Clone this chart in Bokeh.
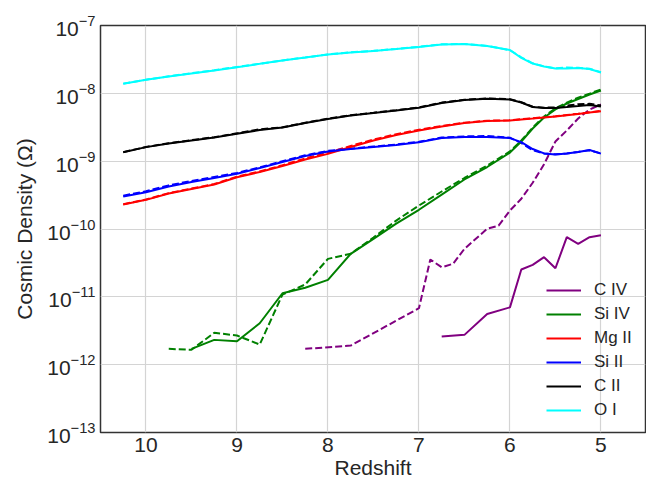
from bokeh.plotting import figure
from bokeh.models import Range1d, FixedTicker, LogTickFormatter, Legend, LegendItem
from bokeh.embed import file_html
from bokeh.resources import INLINE

# ---------------- data ----------------
X_TICKS = [10, 9, 8, 7, 6, 5]
Y_TICKS = [1e-13, 1e-12, 1e-11, 1e-10, 1e-9, 1e-8, 1e-7]

# redshift grid of the smooth low-ionisation curves
z_low = [10.25, 10.0, 9.75, 9.5, 9.25, 9.0, 8.75, 8.5, 8.25, 8.0, 7.75, 7.5, 7.25,
         7.0, 6.75, 6.5, 6.25, 6.0, 5.875, 5.75, 5.625, 5.5, 5.375, 5.25, 5.125, 5.0]

o1_solid = [1.38e-8, 1.58e-8, 1.77e-8, 1.96e-8, 2.17e-8, 2.43e-8, 2.72e-8, 3.05e-8, 3.37e-8,
            3.73e-8, 4.0e-8, 4.21e-8, 4.5e-8, 4.82e-8, 5.25e-8, 5.33e-8, 4.99e-8, 4.35e-8,
            3.34e-8, 2.75e-8, 2.49e-8, 2.32e-8, 2.32e-8, 2.36e-8, 2.29e-8, 2.03e-8]
o1_dash = [1.39e-8, 1.59e-8, 1.78e-8, 1.98e-8, 2.19e-8, 2.45e-8, 2.73e-8, 3.06e-8, 3.38e-8,
           3.75e-8, 4.02e-8, 4.23e-8, 4.52e-8, 4.85e-8, 5.28e-8, 5.35e-8, 5.0e-8, 4.33e-8,
           3.4e-8, 2.77e-8, 2.5e-8, 2.34e-8, 2.4e-8, 2.38e-8, 2.3e-8, 2.05e-8]

c2_solid = [1.355e-9, 1.61e-9, 1.82e-9, 2.02e-9, 2.23e-9, 2.53e-9, 2.88e-9, 3.13e-9, 3.65e-9,
            4.19e-9, 4.71e-9, 5.13e-9, 5.58e-9, 6.12e-9, 7.21e-9, 7.98e-9, 8.3e-9, 8.11e-9,
            7.33e-9, 6.28e-9, 6.08e-9, 6.08e-9, 6.28e-9, 6.5e-9, 6.73e-9, 6.4e-9]
c2_dash = [1.36e-9, 1.62e-9, 1.84e-9, 2.04e-9, 2.26e-9, 2.57e-9, 2.95e-9, 3.16e-9, 3.68e-9,
           4.23e-9, 4.76e-9, 5.18e-9, 5.65e-9, 6.2e-9, 7.3e-9, 8.05e-9, 8.4e-9, 8.2e-9,
           7.4e-9, 6.35e-9, 6.15e-9, 6.2e-9, 6.6e-9, 6.9e-9, 7.0e-9, 6.6e-9]

si2_solid = [3.01e-10, 3.49e-10, 4.23e-10, 4.93e-10, 5.65e-10, 6.52e-10, 7.93e-10, 9.72e-10,
             1.19e-9, 1.39e-9, 1.51e-9, 1.62e-9, 1.73e-9, 1.9e-9, 2.19e-9, 2.27e-9, 2.27e-9,
             2.19e-9, 1.91e-9, 1.51e-9, 1.3e-9, 1.25e-9, 1.3e-9, 1.36e-9, 1.46e-9, 1.29e-9]
si2_dash = [3.1e-10, 3.6e-10, 4.4e-10, 5.1e-10, 5.85e-10, 6.7e-10, 8.1e-10, 1.0e-9,
            1.22e-9, 1.42e-9, 1.53e-9, 1.64e-9, 1.76e-9, 1.93e-9, 2.23e-9, 2.32e-9, 2.35e-9,
            2.22e-9, 1.85e-9, 1.45e-9, 1.3e-9, 1.26e-9, 1.3e-9, 1.37e-9, 1.45e-9, 1.3e-9]

mg2_solid = [2.3e-10, 2.69e-10, 3.34e-10, 3.89e-10, 4.53e-10, 5.8e-10, 6.92e-10, 8.49e-10,
             1.06e-9, 1.28e-9, 1.62e-9, 2.02e-9, 2.43e-9, 2.83e-9, 3.24e-9, 3.65e-9, 3.91e-9,
             3.97e-9, 4.11e-9, 4.25e-9, 4.4e-9, 4.55e-9, 4.74e-9, 4.96e-9, 5.21e-9, 5.43e-9]
mg2_dash = [2.32e-10, 2.72e-10, 3.38e-10, 3.95e-10, 4.6e-10, 5.9e-10, 7.05e-10, 8.7e-10,
            1.1e-9, 1.33e-9, 1.68e-9, 2.08e-9, 2.5e-9, 2.9e-9, 3.3e-9, 3.7e-9, 3.95e-9,
            4.0e-9, 4.15e-9, 4.3e-9, 4.45e-9, 4.6e-9, 4.8e-9, 5.0e-9, 5.25e-9, 5.5e-9]

z_si4_solid = [9.5, 9.25, 9.0, 8.75, 8.5, 8.25, 8.0, 7.75, 7.5, 7.25, 7.0, 6.75, 6.5, 6.25,
               6.0, 5.875, 5.75, 5.625, 5.5, 5.375, 5.25, 5.125, 5.0]
si4_solid = [1.71e-12, 2.32e-12, 2.22e-12, 4.08e-12, 1.13e-11, 1.36e-11, 1.78e-11, 4.31e-11,
             7.16e-11, 1.2e-10, 1.92e-10, 3.22e-10, 5.37e-10, 8.2e-10, 1.34e-9, 1.95e-9,
             3.03e-9, 4.41e-9, 5.78e-9, 7.08e-9, 8.24e-9, 9.61e-9, 1.1e-8]
z_si4_dash = [9.75, 9.5, 9.25, 9.0, 8.75, 8.5, 8.25, 8.0, 7.75, 7.5, 7.25, 7.0, 6.75, 6.5,
              6.25, 6.0, 5.875, 5.75, 5.625, 5.5, 5.375, 5.25, 5.125, 5.0]
si4_dash = [1.71e-12, 1.66e-12, 2.95e-12, 2.69e-12, 1.98e-12, 1.08e-11, 1.52e-11, 3.63e-11,
            4.31e-11, 7.48e-11, 1.33e-10, 2.22e-10, 3.57e-10, 5.65e-10, 8.63e-10, 1.39e-9,
            2.02e-9, 3.13e-9, 4.56e-9, 5.98e-9, 7.3e-9, 8.65e-9, 9.9e-9, 1.14e-8]

z_c4_solid = [6.75, 6.5, 6.25, 6.0, 5.875, 5.75, 5.625, 5.5, 5.375, 5.25, 5.125, 5.0]
c4_solid = [2.6e-12, 2.75e-12, 5.6e-12, 7.0e-12, 2.53e-11, 2.96e-11, 3.84e-11, 2.64e-11,
            7.57e-11, 6.05e-11, 7.57e-11, 8.1e-11]
z_c4_dash = [8.25, 7.75, 7.0, 6.875, 6.75, 6.625, 6.5, 6.25, 6.125, 6.0, 5.875, 5.75,
             5.625, 5.5, 5.375, 5.25, 5.125, 5.0]
c4_dash = [1.71e-12, 1.91e-12, 6.8e-12, 3.55e-11, 2.73e-11, 3.07e-11, 5.1e-11, 1.01e-10,
           1.12e-10, 1.87e-10, 2.79e-10, 4.8e-10, 9.0e-10, 1.95e-9, 2.83e-9, 4.26e-9,
           5.78e-9, 6.84e-9]

SPECIES = ["C IV", "Si IV", "Mg II", "Si II", "C II", "O I"]
COLORS = ["purple", "green", "red", "blue", "black", "cyan"]

# ---------------- figure ----------------
FONT = "Liberation Sans"
TEXT = "#262626"

p = figure(width=646, height=483, x_range=Range1d(10.5, 4.51), y_range=Range1d(1e-13, 1e-7),
           y_axis_type="log", output_backend="svg", toolbar_location=None,
           min_border_left=100, min_border_right=1, min_border_top=25, min_border_bottom=51)
p.background_fill_color = "white"
p.border_fill_color = "white"
p.outline_line_color = "#333333"
p.outline_line_width = 1.5

xt = FixedTicker(ticks=X_TICKS)
yt = FixedTicker(ticks=Y_TICKS)
p.xaxis.ticker = xt
p.yaxis.ticker = yt
p.xgrid.ticker = xt
p.ygrid.ticker = yt
p.yaxis.formatter = LogTickFormatter()
for g in (p.xgrid, p.ygrid):
    g.grid_line_color = "#d4d4d4"
    g.grid_line_width = 1.2

for ax in p.axis:
    ax.axis_line_color = None
    ax.major_tick_line_color = None
    ax.minor_tick_line_color = None
    ax.major_tick_out = 0
    ax.major_tick_in = 0
    ax.major_label_text_font = FONT
    ax.major_label_text_font_size = "21px"
    ax.major_label_text_color = TEXT
    ax.axis_label_text_font = FONT
    ax.axis_label_text_font_size = "21px"
    ax.axis_label_text_font_style = "normal"
    ax.axis_label_text_color = TEXT
p.xaxis.major_label_standoff = 5
p.xaxis.axis_label_standoff = 1
p.yaxis.major_label_standoff = 5
p.yaxis.axis_label_standoff = 8
p.xaxis.axis_label = "Redshift"
p.yaxis.axis_label = "Cosmic Density (\u03a9)"

LW = 2
# dashed curves
p.line(z_c4_dash, c4_dash, color=COLORS[0], line_width=LW, line_dash="7 3")
p.line(z_si4_dash, si4_dash, color=COLORS[1], line_width=LW, line_dash="7 3")
p.line(z_low, mg2_dash, color=COLORS[2], line_width=LW, line_dash="7 3")
p.line(z_low, si2_dash, color=COLORS[3], line_width=LW, line_dash="7 3")
p.line(z_low, c2_dash, color=COLORS[4], line_width=LW, line_dash="7 3")
p.line(z_low, o1_dash, color=COLORS[5], line_width=LW, line_dash="7 3")
# solid curves
r_c4 = p.line(z_c4_solid, c4_solid, color=COLORS[0], line_width=LW)
r_si4 = p.line(z_si4_solid, si4_solid, color=COLORS[1], line_width=LW)
r_mg2 = p.line(z_low, mg2_solid, color=COLORS[2], line_width=LW)
r_si2 = p.line(z_low, si2_solid, color=COLORS[3], line_width=LW)
r_c2 = p.line(z_low, c2_solid, color=COLORS[4], line_width=LW)
r_o1 = p.line(z_low, o1_solid, color=COLORS[5], line_width=LW)

renderers = [r_c4, r_si4, r_mg2, r_si2, r_c2, r_o1]
items = [LegendItem(label=name, renderers=[r]) for name, r in zip(SPECIES, renderers)]
legend = Legend(items=items, location=(446, 12), glyph_width=35, glyph_height=20,
                label_height=20, label_standoff=13, spacing=4, padding=0, margin=0,
                background_fill_alpha=0, border_line_alpha=0,
                label_text_font=FONT, label_text_font_size="17px", label_text_color=TEXT)
p.add_layout(legend)

open("out.html", "w").write(file_html(p, INLINE))
